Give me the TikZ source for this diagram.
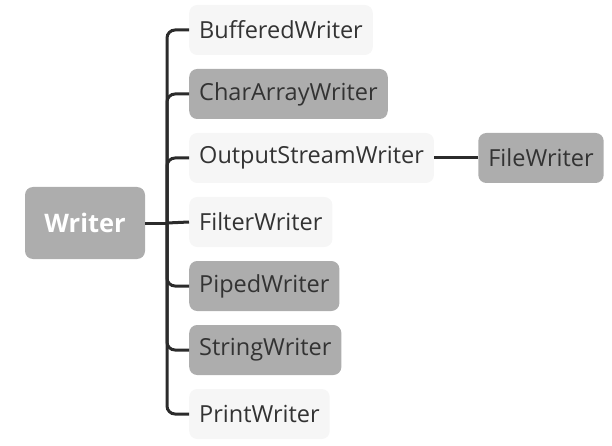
\documentclass[tikz,border=0pt]{standalone}
\usepackage{fontspec}
\setmainfont{Open Sans}
\usetikzlibrary{positioning}
\definecolor{boxgray}{HTML}{ADADAD}
\definecolor{boxlight}{HTML}{F6F6F6}
\definecolor{textdark}{HTML}{333333}
\definecolor{linedark}{HTML}{2B2B2B}
\tikzset{
    common/.style={anchor=west, rectangle, rounded corners=8pt, minimum height=50pt, inner xsep=10pt, text=textdark, font=\fontsize{23.5}{28}\selectfont},
    plain/.style={common, fill=boxlight},
    shaded/.style={common, fill=boxgray},
    root/.style={common, anchor=center, fill=boxgray, text=white, minimum width=120pt, minimum height=72pt, font=\fontsize{25.5}{30}\selectfont\bfseries},
    branch/.style={line width=3pt, draw=linedark, rounded corners=8pt}
}

\begin{document}
\begin{tikzpicture}[x=1pt, y=-1pt]
    \useasboundingbox (0,0) rectangle (612,446);

    \node[root] (writer) at (85,223) {Writer};
    \coordinate (hub) at (167,223);
    \draw[branch] (writer.east) -- (hub);

    % children of Writer, one row every 64pt
    \foreach \name/\kind/\txt [count=\i from 0] in {%
        buffered/plain/BufferedWriter,
        chararray/shaded/CharArrayWriter,
        outputstream/plain/OutputStreamWriter,
        filter/plain/FilterWriter,
        piped/shaded/PipedWriter,
        string/shaded/StringWriter,
        print/plain/PrintWriter}
        \node[\kind] (\name) at (189,30+64*\i) {\txt};

    \foreach \name in {buffered, chararray, outputstream, piped, string, print}
        \draw[branch] (hub) |- (\name.west);
    \draw[branch] (hub) -- (filter.west);

    \node[shaded, right=44pt of outputstream] (file) {FileWriter};
    \draw[branch] (outputstream) -- (file);
\end{tikzpicture}
\end{document}
